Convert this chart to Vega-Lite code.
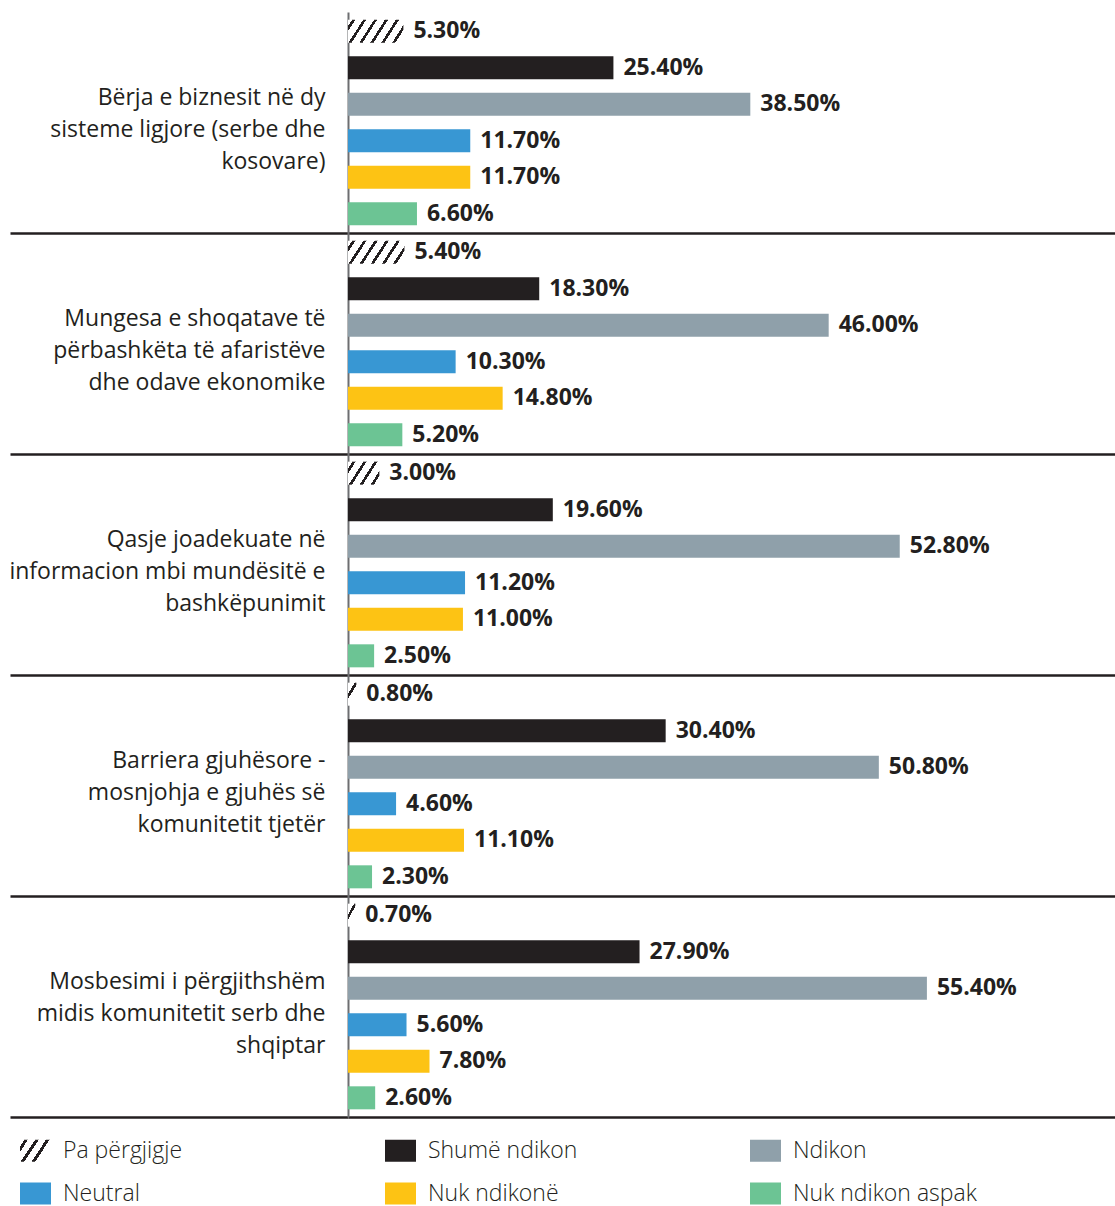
{
  "$schema": "https://vega.github.io/schema/vega-lite/v6.json",
  "width": 767,
  "height": 1105,
  "padding": {"left": 8, "top": 12, "right": 0, "bottom": 0},
  "autosize": {"type": "pad"},
  "config": {"view": {"stroke": null}, "font": "Open Sans"},
  "data": {
    "values": [
      {"g": "Bërja e biznesit në dy|sisteme ligjore (serbe dhe|kosovare)", "c": "Pa përgjigje", "v": 5.3},
      {"g": "Bërja e biznesit në dy|sisteme ligjore (serbe dhe|kosovare)", "c": "Shumë ndikon", "v": 25.4},
      {"g": "Bërja e biznesit në dy|sisteme ligjore (serbe dhe|kosovare)", "c": "Ndikon", "v": 38.5},
      {"g": "Bërja e biznesit në dy|sisteme ligjore (serbe dhe|kosovare)", "c": "Neutral", "v": 11.7},
      {"g": "Bërja e biznesit në dy|sisteme ligjore (serbe dhe|kosovare)", "c": "Nuk ndikonë", "v": 11.7},
      {"g": "Bërja e biznesit në dy|sisteme ligjore (serbe dhe|kosovare)", "c": "Nuk ndikon aspak", "v": 6.6},
      {"g": "Mungesa e shoqatave të|përbashkëta të afaristëve|dhe odave ekonomike", "c": "Pa përgjigje", "v": 5.4},
      {"g": "Mungesa e shoqatave të|përbashkëta të afaristëve|dhe odave ekonomike", "c": "Shumë ndikon", "v": 18.3},
      {"g": "Mungesa e shoqatave të|përbashkëta të afaristëve|dhe odave ekonomike", "c": "Ndikon", "v": 46.0},
      {"g": "Mungesa e shoqatave të|përbashkëta të afaristëve|dhe odave ekonomike", "c": "Neutral", "v": 10.3},
      {"g": "Mungesa e shoqatave të|përbashkëta të afaristëve|dhe odave ekonomike", "c": "Nuk ndikonë", "v": 14.8},
      {"g": "Mungesa e shoqatave të|përbashkëta të afaristëve|dhe odave ekonomike", "c": "Nuk ndikon aspak", "v": 5.2},
      {"g": "Qasje joadekuate në|informacion mbi mundësitë e|bashkëpunimit", "c": "Pa përgjigje", "v": 3.0},
      {"g": "Qasje joadekuate në|informacion mbi mundësitë e|bashkëpunimit", "c": "Shumë ndikon", "v": 19.6},
      {"g": "Qasje joadekuate në|informacion mbi mundësitë e|bashkëpunimit", "c": "Ndikon", "v": 52.8},
      {"g": "Qasje joadekuate në|informacion mbi mundësitë e|bashkëpunimit", "c": "Neutral", "v": 11.2},
      {"g": "Qasje joadekuate në|informacion mbi mundësitë e|bashkëpunimit", "c": "Nuk ndikonë", "v": 11.0},
      {"g": "Qasje joadekuate në|informacion mbi mundësitë e|bashkëpunimit", "c": "Nuk ndikon aspak", "v": 2.5},
      {"g": "Barriera gjuhësore -|mosnjohja e gjuhës së|komunitetit tjetër", "c": "Pa përgjigje", "v": 0.8},
      {"g": "Barriera gjuhësore -|mosnjohja e gjuhës së|komunitetit tjetër", "c": "Shumë ndikon", "v": 30.4},
      {"g": "Barriera gjuhësore -|mosnjohja e gjuhës së|komunitetit tjetër", "c": "Ndikon", "v": 50.8},
      {"g": "Barriera gjuhësore -|mosnjohja e gjuhës së|komunitetit tjetër", "c": "Neutral", "v": 4.6},
      {"g": "Barriera gjuhësore -|mosnjohja e gjuhës së|komunitetit tjetër", "c": "Nuk ndikonë", "v": 11.1},
      {"g": "Barriera gjuhësore -|mosnjohja e gjuhës së|komunitetit tjetër", "c": "Nuk ndikon aspak", "v": 2.3},
      {"g": "Mosbesimi i përgjithshëm|midis komunitetit serb dhe|shqiptar", "c": "Pa përgjigje", "v": 0.7},
      {"g": "Mosbesimi i përgjithshëm|midis komunitetit serb dhe|shqiptar", "c": "Shumë ndikon", "v": 27.9},
      {"g": "Mosbesimi i përgjithshëm|midis komunitetit serb dhe|shqiptar", "c": "Ndikon", "v": 55.4},
      {"g": "Mosbesimi i përgjithshëm|midis komunitetit serb dhe|shqiptar", "c": "Neutral", "v": 5.6},
      {"g": "Mosbesimi i përgjithshëm|midis komunitetit serb dhe|shqiptar", "c": "Nuk ndikonë", "v": 7.8},
      {"g": "Mosbesimi i përgjithshëm|midis komunitetit serb dhe|shqiptar", "c": "Nuk ndikon aspak", "v": 2.6}
    ]
  },
  "encoding": {
    "y": {
      "field": "g", "type": "nominal", "sort": null,
      "scale": {"paddingInner": 0, "paddingOuter": 0},
      "axis": {
        "title": null,
        "domainColor": "#6d6e71", "domainWidth": 2,
        "ticks": true, "tickSize": 338, "tickColor": "#231f20", "tickWidth": 2.5,
        "bandPosition": 1,
        "grid": true, "gridColor": "#231f20", "gridWidth": 2.5,
        "labelExpr": "split(datum.label, '|')",
        "labelLimit": 0, "labelPadding": -315, "labelOffset": -25,
        "labelAlign": "right", "labelBaseline": "middle",
        "labelFontSize": 23, "labelLineHeight": 32, "labelColor": "#231f20", "labelFont": "Open Sans"
      }
    },
    "yOffset": {
      "field": "c", "type": "nominal", "sort": null,
      "scale": {"domain": ["Pa përgjigje", "Shumë ndikon", "Ndikon", "Neutral", "Nuk ndikonë", "Nuk ndikon aspak"], "paddingInner": 0.37, "paddingOuter": 0.21}
    },
    "x": {"field": "v", "type": "quantitative", "scale": {"domain": [0, 73.4], "nice": false}, "axis": null}
  },
  "layer": [
    {
      "mark": {"type": "bar"},
      "encoding": {
        "color": {
          "field": "c", "type": "nominal",
          "scale": {
            "domain": ["Pa përgjigje", "Shumë ndikon", "Ndikon", "Neutral", "Nuk ndikonë", "Nuk ndikon aspak"],
            "range": [
              {"expr": "{gradient: 'linear', x1: 0, y1: 0, x2: 1.204, y2: 0.562, stops: [{offset: 0, color: '#ffffff'}, {offset: 0.095, color: '#ffffff'}, {offset: 0.095, color: '#231f20'}, {offset: 0.175, color: '#231f20'}, {offset: 0.175, color: '#ffffff'}, {offset: 0.333, color: '#ffffff'}, {offset: 0.333, color: '#231f20'}, {offset: 0.413, color: '#231f20'}, {offset: 0.413, color: '#ffffff'}, {offset: 0.571, color: '#ffffff'}, {offset: 0.571, color: '#231f20'}, {offset: 0.651, color: '#231f20'}, {offset: 0.651, color: '#ffffff'}, {offset: 1, color: '#ffffff'}]}"},
              "#231f20", "#8fa0aa", "#3897d3", "#fdc314", "#6cc494"]
          },
          "condition": [
            {"test": "datum.c === 'Pa përgjigje' && datum.v >= 5", "value": {"gradient": "linear", "x1": 0, "y1": 0, "x2": 1.182, "y2": 0.313, "stops": [
              {"offset": 0, "color": "#ffffff"},
              {"offset": 0.06, "color": "#ffffff"}, {"offset": 0.06, "color": "#231f20"}, {"offset": 0.105, "color": "#231f20"}, {"offset": 0.105, "color": "#ffffff"},
              {"offset": 0.216, "color": "#ffffff"}, {"offset": 0.216, "color": "#231f20"}, {"offset": 0.261, "color": "#231f20"}, {"offset": 0.261, "color": "#ffffff"},
              {"offset": 0.372, "color": "#ffffff"}, {"offset": 0.372, "color": "#231f20"}, {"offset": 0.417, "color": "#231f20"}, {"offset": 0.417, "color": "#ffffff"},
              {"offset": 0.528, "color": "#ffffff"}, {"offset": 0.528, "color": "#231f20"}, {"offset": 0.573, "color": "#231f20"}, {"offset": 0.573, "color": "#ffffff"},
              {"offset": 0.684, "color": "#ffffff"}, {"offset": 0.684, "color": "#231f20"}, {"offset": 0.729, "color": "#231f20"}, {"offset": 0.729, "color": "#ffffff"},
              {"offset": 0.84, "color": "#ffffff"}, {"offset": 0.84, "color": "#231f20"}, {"offset": 0.885, "color": "#231f20"}, {"offset": 0.885, "color": "#ffffff"},
              {"offset": 1, "color": "#ffffff"}
            ]}},
            {"test": "datum.c === 'Pa përgjigje' && datum.v >= 2", "value": {"gradient": "linear", "x1": 0, "y1": 0, "x2": 1.204, "y2": 0.562, "stops": [
              {"offset": 0, "color": "#ffffff"},
              {"offset": 0.095, "color": "#ffffff"}, {"offset": 0.095, "color": "#231f20"}, {"offset": 0.165, "color": "#231f20"}, {"offset": 0.165, "color": "#ffffff"},
              {"offset": 0.333, "color": "#ffffff"}, {"offset": 0.333, "color": "#231f20"}, {"offset": 0.403, "color": "#231f20"}, {"offset": 0.403, "color": "#ffffff"},
              {"offset": 0.571, "color": "#ffffff"}, {"offset": 0.571, "color": "#231f20"}, {"offset": 0.641, "color": "#231f20"}, {"offset": 0.641, "color": "#ffffff"},
              {"offset": 0.81, "color": "#ffffff"}, {"offset": 0.81, "color": "#231f20"}, {"offset": 0.88, "color": "#231f20"}, {"offset": 0.88, "color": "#ffffff"},
              {"offset": 1, "color": "#ffffff"}
            ]}},
            {"test": "datum.c === 'Pa përgjigje'", "value": {"gradient": "linear", "x1": 0, "y1": 0, "x2": 0.677, "y2": 1.185, "stops": [
              {"offset": 0, "color": "#ffffff"},
              {"offset": 0.3, "color": "#ffffff"}, {"offset": 0.3, "color": "#231f20"}, {"offset": 0.44, "color": "#231f20"}, {"offset": 0.44, "color": "#ffffff"},
              {"offset": 1, "color": "#ffffff"}
            ]}}
          ],
          "legend": {
            "title": null, "orient": "none", "legendX": -328, "legendY": 1123,
            "direction": "horizontal", "columns": 3, "gridAlign": "all",
            "columnPadding": 138, "rowPadding": 15,
            "symbolType": "M-1,-0.71H1V0.71H-1Z", "symbolSize": 961, "symbolStrokeWidth": 0, "symbolOpacity": 1,
            "labelFontSize": 23, "labelFont": "Open Sans", "labelFontWeight": 300, "labelColor": "#231f20", "labelOffset": 12, "labelLimit": 0
          }
        }
      }
    },
    {
      "transform": [{"calculate": "format(datum.v, '.2f') + '%'", "as": "lab"}],
      "mark": {"type": "text", "align": "left", "baseline": "middle", "dx": 10, "fontSize": 23, "fontWeight": "bold", "font": "Open Sans", "color": "#231f20"},
      "encoding": {"text": {"field": "lab"}}
    }
  ]
}
